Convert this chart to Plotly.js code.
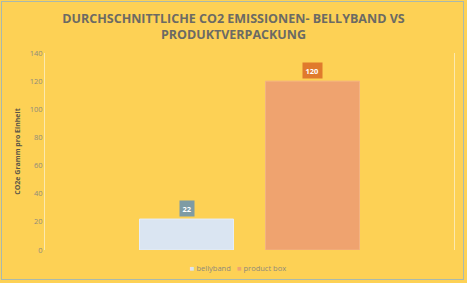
<!DOCTYPE html>
<html><head><meta charset="utf-8">
<script src="https://cdn.plot.ly/plotly-3.0.1.min.js"></script>
<style>
html,body{margin:0;padding:0;background:#eef1ee;}
#wrap{position:relative;width:467px;height:283px;}
#chart{width:467px;height:283px;}
#frame{position:absolute;left:1px;top:1px;width:461px;height:277px;border:1px solid #a9b9ad;pointer-events:none;}
</style></head>
<body>
<div id="wrap"><div id="chart"></div><div id="frame"></div></div>
<script>
const category = ["Durchschnitt"];
const seriesNames = ["bellyband", "product box"];
const bellyband = [22];
const productBox = [120];
const yTicks = [0, 20, 40, 60, 80, 100, 120, 140];

const barColors = ['#DAE5F2', '#EFA36F'];
const traces = [
  {type:'bar', name:seriesNames[0], x:category, y:bellyband,
   marker:{color:barColors[0], line:{color:'#E6EEF7', width:1}}, hoverinfo:'none'},
  {type:'bar', name:seriesNames[1], x:category, y:productBox,
   marker:{color:barColors[1], line:{color:'#F3B282', width:1}}, hoverinfo:'none'}
];

const labelColors = ['#7E9BA4', '#E07A2C'];
const allValues = [bellyband, productBox];
const annotations = allValues.map((vals, i) => ({
  x: 0, y: vals[0], xref:'x', yref:'y',
  xshift: (i === 0 ? -63 : 63), yshift: 2, yanchor:'bottom',
  text: String(vals[0]), showarrow:false,
  font:{family:'Open Sans', size:7.5, color:'#ffffff', weight:'bold'},
  bgcolor: labelColors[i], borderpad:2.5
}));
// compact legend (square key right next to the name)
const legendX = [0.3496, 0.4645];
seriesNames.forEach((n, i) => annotations.push({
  x: legendX[i], y: -0.0914, xref:'paper', yref:'paper', xanchor:'left', yanchor:'middle',
  text:'<span style="color:' + barColors[i] + '">■</span> ' + n, showarrow:false,
  font:{family:'Open Sans', size:7.5, color:'#8E8A7C'}
}));

const layout = {
  width:467, height:283,
  paper_bgcolor:'#FDD155', plot_bgcolor:'#FDD155',
  margin:{l:45, r:13, t:53, b:33},
  title:{text:'DURCHSCHNITTLICHE CO2 EMISSIONEN- BELLYBAND VS<br>PRODUKTVERPACKUNG',
    font:{family:'Open Sans', size:12.5, color:'#6B6A64', weight:'bold'},
    x:0.5, xanchor:'center', y:0.92, yanchor:'top', yref:'container'},
  barmode:'group', bargap:0.384, bargroupgap:0.254,
  xaxis:{showticklabels:false, showline:false, showgrid:false, zeroline:false, ticks:''},
  yaxis:{range:[0,140], tickvals:yTicks, showgrid:false, zeroline:false,
    showline:true, mirror:true, linecolor:'#FCE9AE', linewidth:1, ticks:'',
    tickfont:{family:'Open Sans', size:7.5, color:'#8E8A7C'},
    title:{text:'CO2e Gramm pro Einheit', standoff:8,
      font:{family:'Open Sans', size:7, color:'#5A5648', weight:'bold'}}},
  showlegend:false,
  annotations: annotations
};
Plotly.newPlot('chart', traces, layout, {displayModeBar:false, staticPlot:true});
</script>
</body></html>
